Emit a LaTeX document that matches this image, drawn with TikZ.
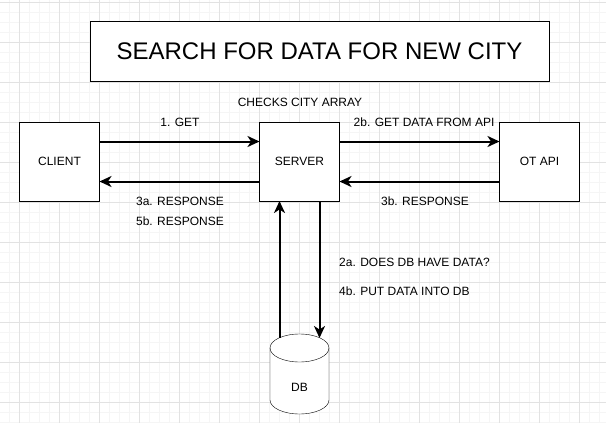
\documentclass[tikz,border=0pt]{standalone}
\usepackage{fontspec}
\setmainfont{Liberation Sans}
\usetikzlibrary{arrows.meta,backgrounds,positioning}
\definecolor{minorgrid}{RGB}{245,245,245}
\definecolor{majorgrid}{RGB}{226,226,226}

\begin{document}
\begin{tikzpicture}[x=1pt,y=-1pt,>={Stealth[length=12pt,width=11pt,inset=3.5pt]}]
\tikzstyle{box}=[rectangle,draw,minimum width=80pt,minimum height=79pt,inner sep=0pt,outer sep=0pt,font=\fontsize{12}{14}\selectfont]
\tikzstyle{lbl}=[inner sep=0pt,font=\fontsize{12}{14}\selectfont]
\tikzstyle{link}=[line width=2pt,->]
\useasboundingbox (0,0) rectangle (606,423);
\begin{scope}[on background layer]
\fill[white] (0,0) rectangle (606,423);
\foreach \x in {9,19,...,599} \draw[minorgrid,line width=0.7pt] (\x,0) -- (\x,423);
\foreach \y in {2,12,...,422} \draw[minorgrid,line width=0.7pt] (0,\y) -- (606,\y);
\foreach \x in {19,59,...,579} \draw[majorgrid,line width=0.7pt] (\x,0) -- (\x,423);
\foreach \y in {2,42,...,402} \draw[majorgrid,line width=0.7pt] (0,\y) -- (606,\y);
\end{scope}
\node[draw,fill=white,minimum width=459pt,minimum height=60pt,inner sep=0pt,font=\fontsize{24}{28}\selectfont] (title) at (319.5,51) {SEARCH FOR DATA FOR NEW CITY};
\node[box,fill=white] (client) at (59.5,161.5) {CLIENT};
\node[box,fill=white] (server) at (299.5,161.5) {SERVER};
\node[box,fill=white] (otapi) at (539.5,161.5) {OT API};
\node[box,draw=none,minimum width=59pt,minimum height=80pt,text height=34.6pt,text depth=0pt] (db) at (299.5,374) {DB};
% cylinder outline of the db node
\begin{scope}[on background layer]
\draw[fill=white] ([yshift=-14pt]db.north west) -- ([yshift=14pt]db.south west)
  arc[start angle=180,end angle=360,x radius=29.5pt,y radius=14pt]
  -- ([yshift=-14pt]db.north east)
  arc[start angle=0,end angle=180,x radius=29.5pt,y radius=14pt] -- cycle;
\draw ([yshift=-14pt]db.north west) arc[start angle=180,end angle=360,x radius=29.5pt,y radius=14pt];
\end{scope}
\draw[link] ([yshift=20pt]client.east) -- ([yshift=20pt]server.west);
\draw[link] ([yshift=-20pt]server.west) -- ([yshift=-20pt]client.east);
\draw[link] ([yshift=20pt]server.east) -- ([yshift=20pt]otapi.west);
\draw[link] ([yshift=-20pt]otapi.west) -- ([yshift=-20pt]server.east);
\draw[link] ([xshift=-20pt,yshift=-4pt]db.north) -- ([xshift=-20pt]server.south);
\draw[link] ([xshift=20pt]server.south) -- ([xshift=20pt,yshift=-4pt]db.north);
\node[lbl] (checks) at (300,102) {CHECKS CITY ARRAY};
\node[lbl] (get) at (180,122) {1. GET};
\node[lbl] (resp3a) at (180,201) {3a. RESPONSE};
\node[lbl] (resp5b) at (180,221) {5b. RESPONSE};
\node[lbl] (getapi) at (424,122) {2b. GET DATA FROM API};
\node[lbl] (resp3b) at (425,201) {3b. RESPONSE};
\node[lbl,anchor=west] (dbhas) at (339,262) {2a. DOES DB HAVE DATA?};
\node[lbl,anchor=west] (putdb) at (339,291) {4b. PUT DATA INTO DB};
\end{tikzpicture}
\end{document}
